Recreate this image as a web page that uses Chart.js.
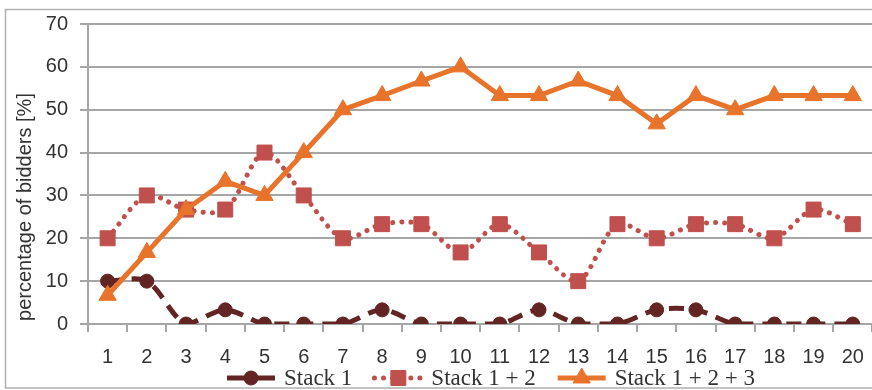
<!DOCTYPE html>
<html>
<head>
<meta charset="utf-8">
<script src="https://cdn.jsdelivr.net/npm/chart.js@4/dist/chart.umd.min.js"></script>
<style>
  html, body { margin: 0; padding: 0; overflow: hidden; background: #fff; }
  #wrap { position: relative; width: 884px; height: 390px; }
</style>
</head>
<body>
<div id="wrap"><canvas id="c" width="884" height="390"></canvas></div>
<script>
// Auction rounds on the x axis
const rounds = ['1','2','3','4','5','6','7','8','9','10','11','12','13','14','15','16','17','18','19','20'];

// Share of bidders (%) per round
const stack1   = [10, 10, 0, 3.3, 0, 0, 0, 3.3, 0, 0, 0, 3.3, 0, 0, 3.3, 3.3, 0, 0, 0, 0];
const stack12  = [20, 30, 26.7, 26.7, 40, 30, 20, 23.3, 23.3, 16.7, 23.3, 16.7, 10, 23.3, 20, 23.3, 23.3, 20, 26.7, 23.3];
const stack123 = [6.7, 16.7, 26.7, 33.3, 30, 40, 50, 53.3, 56.7, 60, 53.3, 53.3, 56.7, 53.3, 46.7, 53.3, 50, 53.3, 53.3, 53.3];

// Y axis range and step
const yMin = 0, yMax = 70, yStep = 10;

const seriesLabels = ['Stack 1', 'Stack 1 + 2', 'Stack 1 + 2 + 3'];
const yTitle = 'percentage of bidders [%]';

const GRID = '#a6a6a6';
const TEXT = '#333333';
const SANS = "'Liberation Sans', Arial, sans-serif";
const SERIF = "'Liberation Serif', 'Times New Roman', serif";

// Outer frame of the chart
const framePlugin = {
  id: 'frame',
  beforeDraw(chart) {
    const ctx = chart.ctx;
    ctx.save();
    ctx.fillStyle = '#fff';
    ctx.fillRect(0, 0, chart.width, chart.height);
    ctx.strokeStyle = '#b0b0b0';
    ctx.lineWidth = 1.5;
    ctx.strokeRect(5.5, 9.5, chart.width + 20, 378.5);
    ctx.restore();
  }
};

// Rotated y-axis title
const yTitlePlugin = {
  id: 'yTitle',
  afterDraw(chart, args, opts) {
    const ctx = chart.ctx;
    ctx.save();
    ctx.translate(opts.x, opts.y);
    ctx.rotate(-Math.PI / 2);
    ctx.font = opts.font;
    ctx.fillStyle = TEXT;
    ctx.textAlign = 'center';
    ctx.textBaseline = 'middle';
    ctx.fillText(opts.text, 0, 0);
    ctx.restore();
  }
};

// Legend showing each series' line sample with its marker
const lineLegendPlugin = {
  id: 'lineLegend',
  afterDraw(chart, args, opts) {
    const ctx = chart.ctx;
    ctx.save();
    ctx.font = opts.font;
    const items = chart.data.datasets.map((ds, i) => ({ ds, i, w: ctx.measureText(ds.label).width }));
    const total = items.reduce((s, it) => s + opts.sample + opts.textGap + it.w, 0) + opts.itemGap * (items.length - 1);
    let x = opts.centerX - total / 2;
    const y = opts.y;
    items.forEach(it => {
      const ds = it.ds;
      ctx.save();
      ctx.strokeStyle = ds.borderColor;
      ctx.lineWidth = ds.borderWidth;
      ctx.setLineDash(ds.legendDash || ds.borderDash || []);
      ctx.lineCap = ds.borderCapStyle || 'butt';
      ctx.beginPath();
      ctx.moveTo(x, y);
      ctx.lineTo(x + opts.sample, y);
      ctx.stroke();
      ctx.restore();

      ctx.save();
      ctx.setLineDash([]);
      ctx.fillStyle = ds.pointBackgroundColor;
      ctx.strokeStyle = ds.pointBorderColor;
      ctx.lineWidth = ds.pointBorderWidth || 0;
      Chart.helpers.drawPoint(ctx, {
        pointStyle: ds.pointStyle,
        radius: ds.pointRadius,
        borderWidth: ds.pointBorderWidth || 0,
        rotation: 0
      }, x + opts.sample / 2, y);
      ctx.restore();

      ctx.fillStyle = TEXT;
      ctx.textAlign = 'left';
      ctx.textBaseline = 'middle';
      ctx.fillText(ds.label, x + opts.sample + opts.textGap, y + 1);
      x += opts.sample + opts.textGap + it.w + opts.itemGap;
    });
    ctx.restore();
  }
};

const DARK = '#632523';
const RED = '#c0504d';
const ORANGE = '#e8732a';

new Chart(document.getElementById('c'), {
  type: 'line',
  data: {
    labels: rounds,
    datasets: [
      {
        label: seriesLabels[0],
        data: stack1,
        borderColor: DARK,
        backgroundColor: DARK,
        borderWidth: 5,
        borderDash: [15, 9],
        legendDash: [15, 0],
        tension: 0.3,
        pointStyle: 'circle',
        pointRadius: 7,
        pointBackgroundColor: DARK,
        pointBorderColor: DARK,
        pointBorderWidth: 1,
        order: 2
      },
      {
        label: seriesLabels[1],
        data: stack12,
        borderColor: RED,
        backgroundColor: RED,
        borderWidth: 5,
        borderDash: [0.1, 9],
        borderCapStyle: 'round',
        tension: 0.3,
        pointStyle: 'rect',
        pointRadius: 10.6,
        pointBackgroundColor: RED,
        pointBorderColor: RED,
        pointBorderWidth: 1,
        order: 1
      },
      {
        label: seriesLabels[2],
        data: stack123,
        borderColor: ORANGE,
        backgroundColor: ORANGE,
        borderWidth: 5,
        tension: 0,
        pointStyle: 'triangle',
        pointRadius: 10,
        pointBackgroundColor: ORANGE,
        pointBorderColor: ORANGE,
        pointBorderWidth: 1,
        order: 0
      }
    ]
  },
  options: {
    responsive: false,
    animation: false,
    events: [],
    layout: { padding: { left: 0, right: 8, top: 22, bottom: 0 } },
    plugins: {
      legend: { display: false },
      tooltip: { enabled: false },
      yTitle: { text: yTitle, x: 25, y: 207, font: "20px " + SANS },
      lineLegend: { centerX: 491, y: 378, sample: 48, textGap: 9, itemGap: 22, font: "23px " + SERIF }
    },
    scales: {
      x: {
        type: 'category',
        offset: true,
        grid: {
          offset: true,
          drawOnChartArea: false,
          drawTicks: true,
          tickLength: 8,
          color: GRID,
          lineWidth: 2
        },
        border: { display: true, color: GRID, width: 2 },
        ticks: { color: TEXT, font: { family: SANS, size: 20 }, padding: 13, maxRotation: 0, autoSkip: false },
        afterFit(scale) { scale.height = 66; }
      },
      y: {
        min: yMin,
        max: yMax,
        grid: {
          color: GRID,
          lineWidth: 2,
          drawTicks: true,
          tickLength: 8
        },
        border: { display: true, color: GRID, width: 2 },
        ticks: { stepSize: yStep, color: TEXT, font: { family: SANS, size: 20 }, padding: 12 },
        afterFit(scale) { scale.width = 88; }
      }
    }
  },
  plugins: [framePlugin, yTitlePlugin, lineLegendPlugin]
});
</script>
</body>
</html>
